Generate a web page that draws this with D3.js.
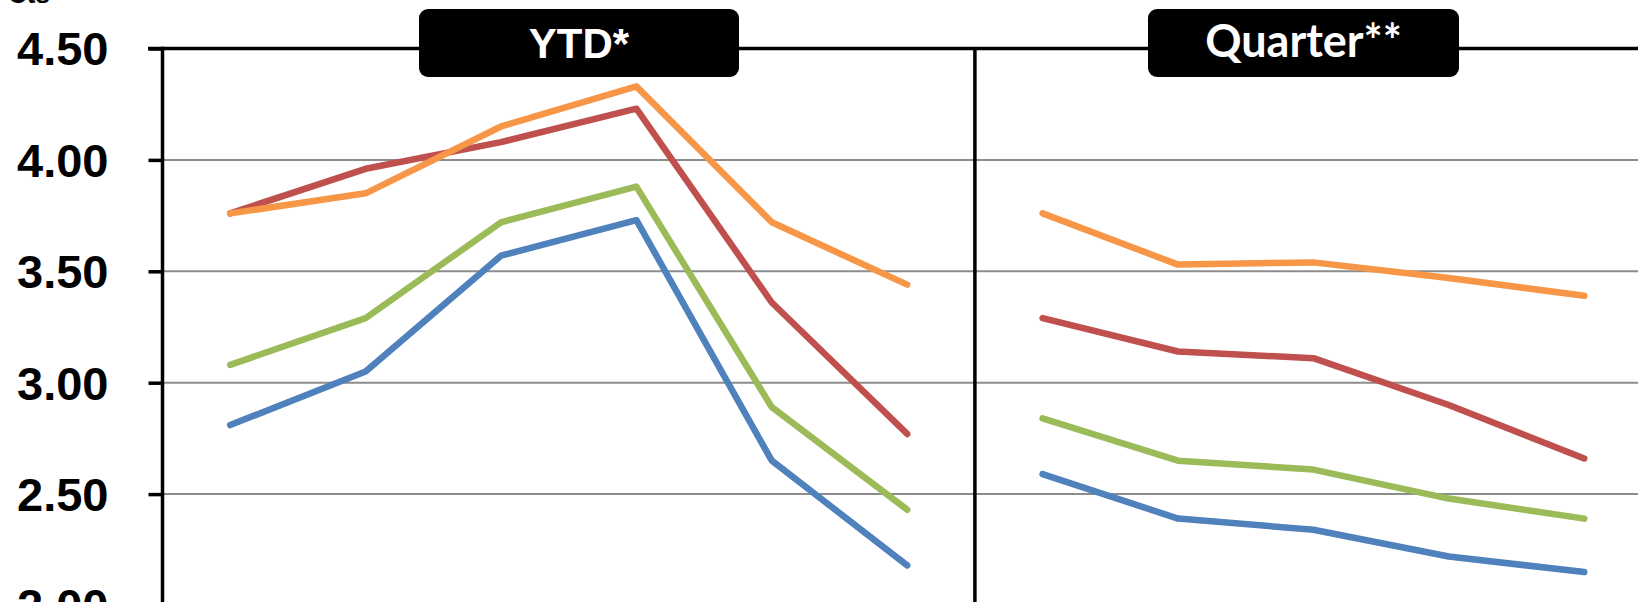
<!DOCTYPE html>
<html>
<head>
<meta charset="utf-8">
<script src="https://cdn.jsdelivr.net/npm/d3@7/dist/d3.min.js"></script>
<style>
  html, body { margin: 0; padding: 0; background: #fff; overflow: hidden; }
  svg { display: block; }
</style>
</head>
<body>
<svg id="chart" width="1638" height="602"></svg>
<script>
// ---- data ----
const panels = ["YTD*", "Quarter**"];
const ytdCategories = ["Y1", "Y2", "Y3", "Y4", "Y5", "Y6"];
const quarterCategories = ["Q1", "Q2", "Q3", "Q4", "Q5", "Q6"];
const yTicks = [2.0, 2.5, 3.0, 3.5, 4.0, 4.5];
const unitLabel = "Cts";

const seriesNames = ["Series 1", "Series 2", "Series 3", "Series 4"];
const seriesColors = ["#4F81BD", "#C0504D", "#9BBB59", "#F79646"];

const ytdBlue   = [2.81, 3.05, 3.57, 3.73, 2.65, 2.18];
const ytdRed    = [3.76, 3.96, 4.08, 4.23, 3.36, 2.77];
const ytdGreen  = [3.08, 3.29, 3.72, 3.88, 2.89, 2.43];
const ytdOrange = [3.76, 3.85, 4.15, 4.33, 3.72, 3.44];

const qtrBlue   = [2.59, 2.39, 2.34, 2.22, 2.15];
const qtrRed    = [3.29, 3.14, 3.11, 2.90, 2.66];
const qtrGreen  = [2.84, 2.65, 2.61, 2.48, 2.39];
const qtrOrange = [3.76, 3.53, 3.54, 3.47, 3.39];

const ytdSeries = [ytdBlue, ytdRed, ytdGreen, ytdOrange];
const qtrSeries = [qtrBlue, qtrRed, qtrGreen, qtrOrange];

// ---- layout ----
const W = 1638, H = 602;
const plotLeft = 162.5;
const band = 135.4;
const allCategories = ytdCategories.concat(quarterCategories);

const svg = d3.select("#chart");

const x = d3.scaleBand()
  .domain(allCategories)
  .range([plotLeft, plotLeft + band * allCategories.length])
  .paddingInner(0).paddingOuter(0);

const y = d3.scaleLinear().domain([2.0, 4.5]).range([605.5, 48.5]);

const cx = c => x(c) + x.bandwidth() / 2;

// gridlines
svg.append("g").selectAll("line")
  .data(yTicks.filter(t => t < 4.5))
  .join("line")
  .attr("x1", plotLeft).attr("x2", W)
  .attr("y1", d => y(d)).attr("y2", d => y(d))
  .attr("stroke", "#8c8c8c").attr("stroke-width", 2);

// top border
svg.append("line")
  .attr("x1", 148).attr("x2", W)
  .attr("y1", y(4.5)).attr("y2", y(4.5))
  .attr("stroke", "#000").attr("stroke-width", 3.5);

// y axis
const yAxis = d3.axisLeft(y)
  .tickValues(yTicks)
  .tickSize(14)
  .tickPadding(40)
  .tickFormat(d3.format(".2f"));

const ga = svg.append("g")
  .attr("transform", `translate(${plotLeft},0)`)
  .call(yAxis);
ga.select(".domain").remove();
ga.selectAll(".tick line").attr("stroke", "#000").attr("stroke-width", 3.5);
ga.selectAll(".tick text")
  .attr("fill", "#000")
  .attr("font-family", "'Liberation Sans', Arial, sans-serif")
  .attr("font-weight", "bold")
  .attr("font-size", 47)
  .attr("dy", "0.35em");

svg.append("line")
  .attr("x1", plotLeft).attr("x2", plotLeft)
  .attr("y1", y(4.5) - 1.75).attr("y2", H)
  .attr("stroke", "#000").attr("stroke-width", 3.5);

// panel divider
const divX = x(quarterCategories[0]);
svg.append("line")
  .attr("x1", divX).attr("x2", divX)
  .attr("y1", y(4.5)).attr("y2", H)
  .attr("stroke", "#000").attr("stroke-width", 3.5);

// lines
const line = d3.line().x(d => cx(d.c)).y(d => y(d.v));

function drawPanel(cats, seriesList) {
  seriesList.forEach((vals, i) => {
    const pts = vals.map((v, j) => ({ c: cats[j], v }));
    svg.append("path")
      .datum(pts)
      .attr("d", line)
      .attr("fill", "none")
      .attr("stroke", seriesColors[i])
      .attr("stroke-width", 6.5)
      .attr("stroke-linecap", "round")
      .attr("stroke-linejoin", "round")
      .append("title").text(seriesNames[i]);
  });
}
drawPanel(ytdCategories, ytdSeries);
drawPanel(quarterCategories, qtrSeries);

// panel headers
const headers = [
  { text: panels[0], x: 419, w: 320, font: "'Liberation Sans', Arial, sans-serif", size: 42, base: 58 },
  { text: panels[1], x: 1148, w: 311, font: "Lato, 'Open Sans', sans-serif", size: 45, base: 57 }
];
headers.forEach(h => {
  svg.append("rect")
    .attr("x", h.x).attr("y", 9)
    .attr("width", h.w).attr("height", 68)
    .attr("rx", 9).attr("ry", 9)
    .attr("fill", "#000");
  svg.append("text")
    .attr("x", h.x + h.w / 2).attr("y", h.base)
    .attr("text-anchor", "middle")
    .attr("fill", "#fff")
    .attr("font-family", h.font)
    .attr("font-weight", "bold")
    .attr("font-size", h.size)
    .text(h.text);
});

// unit label (cut off at the top, as in the source image)
svg.append("text")
  .attr("x", 8).attr("y", 3)
  .attr("fill", "#000")
  .attr("font-family", "'Liberation Sans', Arial, sans-serif")
  .attr("font-weight", "bold")
  .attr("font-size", 26)
  .text(unitLabel);
</script>
</body>
</html>
